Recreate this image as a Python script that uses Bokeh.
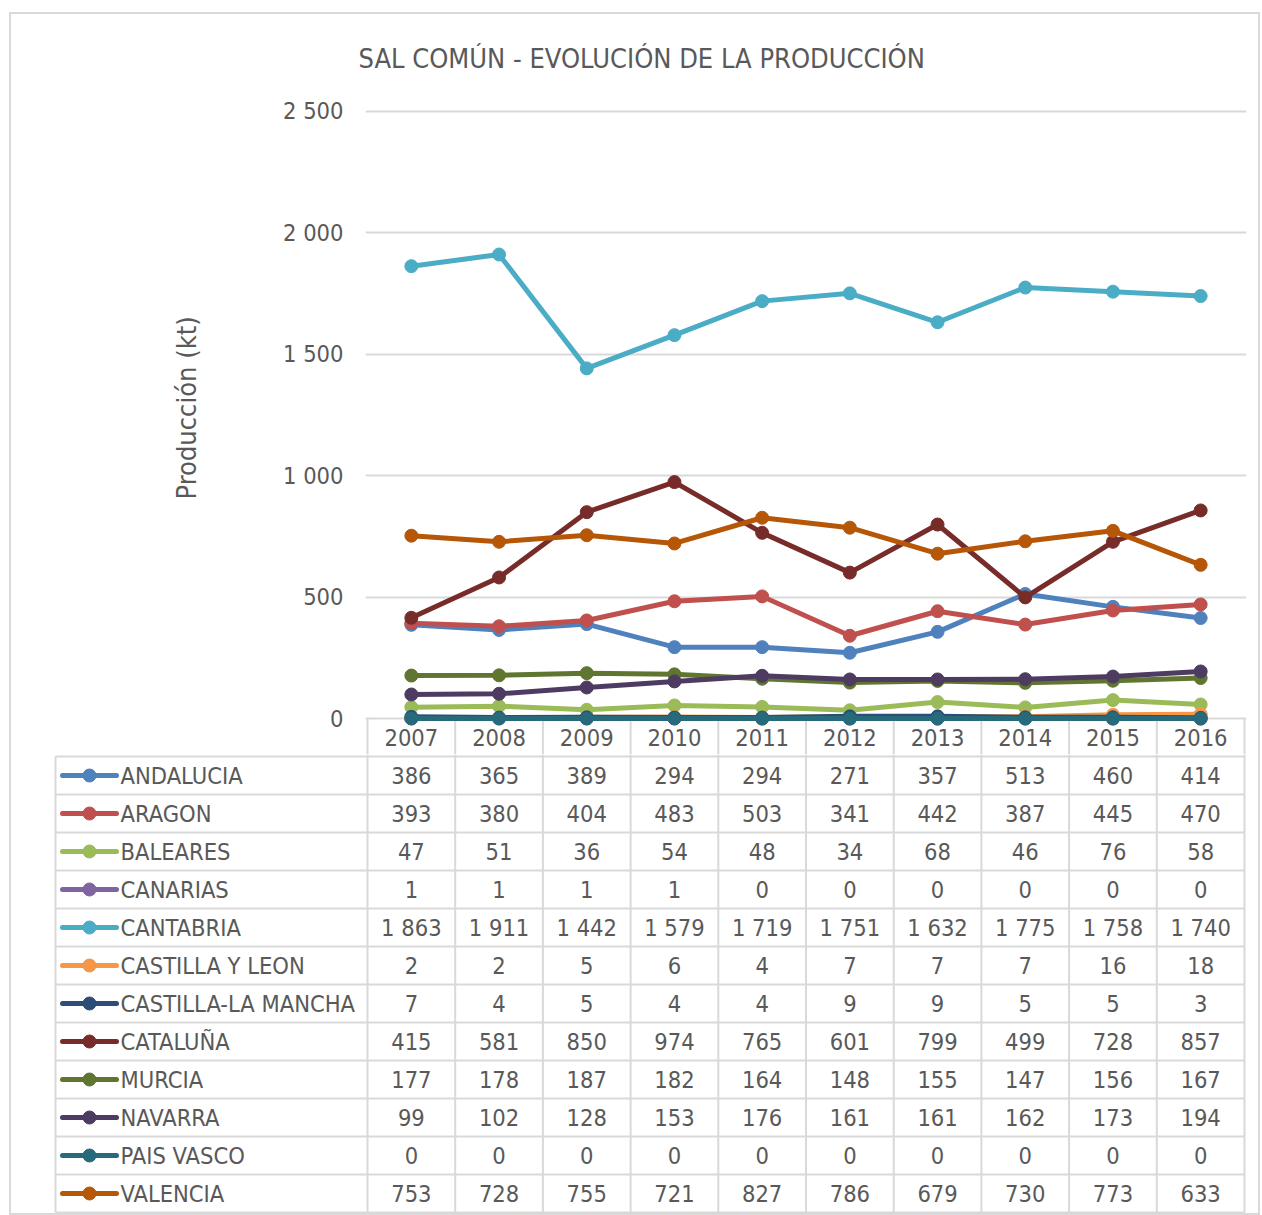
from bokeh.plotting import figure
from bokeh.models import Range1d, FixedTicker, ColumnDataSource, Title
from bokeh.layouts import column
from bokeh.embed import file_html
from bokeh.resources import INLINE
from bokeh.core.properties import value

# ---------------- data ----------------
years = [2007, 2008, 2009, 2010, 2011, 2012, 2013, 2014, 2015, 2016]
regions = ["ANDALUCIA", "ARAGON", "BALEARES", "CANARIAS", "CANTABRIA",
           "CASTILLA Y LEON", "CASTILLA-LA MANCHA", "CATALUÑA", "MURCIA",
           "NAVARRA", "PAIS VASCO", "VALENCIA"]
andalucia = [386, 365, 389, 294, 294, 271, 357, 513, 460, 414]
aragon = [393, 380, 404, 483, 503, 341, 442, 387, 445, 470]
baleares = [47, 51, 36, 54, 48, 34, 68, 46, 76, 58]
canarias = [1, 1, 1, 1, 0, 0, 0, 0, 0, 0]
cantabria = [1863, 1911, 1442, 1579, 1719, 1751, 1632, 1775, 1758, 1740]
castilla_leon = [2, 2, 5, 6, 4, 7, 7, 7, 16, 18]
castilla_mancha = [7, 4, 5, 4, 4, 9, 9, 5, 5, 3]
cataluna = [415, 581, 850, 974, 765, 601, 799, 499, 728, 857]
murcia = [177, 178, 187, 182, 164, 148, 155, 147, 156, 167]
navarra = [99, 102, 128, 153, 176, 161, 161, 162, 173, 194]
pais_vasco = [0, 0, 0, 0, 0, 0, 0, 0, 0, 0]
valencia = [753, 728, 755, 721, 827, 786, 679, 730, 773, 633]
series = [andalucia, aragon, baleares, canarias, cantabria, castilla_leon,
          castilla_mancha, cataluna, murcia, navarra, pais_vasco, valencia]
colors = ["#4F81BD", "#C0504D", "#9BBB59", "#8064A2", "#4BACC6", "#F79646",
          "#2C4D75", "#772C2A", "#5F7530", "#4D3B62", "#276A7C", "#B65708"]
y_ticks = [0, 500, 1000, 1500, 2000, 2500]
y_tick_labels = ["0", "500", "1 000", "1 500", "2 000", "2 500"]
title_text = "SAL COMÚN - EVOLUCIÓN DE LA PRODUCCIÓN"
y_label = "Producción (kt)"


def fmt(v):
    return f"{v:,}".replace(",", " ")


# ---------------- style ----------------
FONT = "DejaVu Sans Condensed"
TXT = "#595959"
GRID = "#d9d9d9"
PX = 87.7          # pixels per year column
PY = 608 / 2500    # pixels per kt
ROW = 38           # table row height

# page origin of the figures is (9, 12)
W = 1251
SPLIT = 754        # page y where the chart figure ends and the table begins

# ---------------- chart (with the table header row) ----------------
y_bottom = -(SPLIT - 718) / PY
A = figure(width=W, height=SPLIT - 12,
           x_range=Range1d(2006.5 - 2 / PX, 2016.5 + 2 / PX),
           y_range=Range1d(y_bottom, 2500 + 10 / PY),
           output_backend="svg", toolbar_location=None,
           x_axis_location=None,
           min_border_left=356, min_border_right=14,
           min_border_top=88, min_border_bottom=0)
A.frame_align = False
A.outline_line_color = None
A.border_fill_color = None
A.background_fill_color = None
A.xgrid.visible = False

A.title.text = title_text
A.title.align = "left"
A.title.offset = -7
A.title.text_font = FONT
A.title.text_font_size = "27px"
A.title.text_font_style = "normal"
A.title.text_color = TXT
A.title.standoff = 56

A.yaxis.ticker = FixedTicker(ticks=y_ticks)
A.yaxis.major_label_overrides = {t: l for t, l in zip(y_ticks, y_tick_labels)}
A.yaxis.axis_line_color = None
A.yaxis.major_tick_line_color = None
A.yaxis.minor_tick_line_color = None
A.yaxis.major_label_standoff = 16
A.yaxis.major_label_text_font = FONT
A.yaxis.major_label_text_font_size = "23.5px"
A.yaxis.major_label_text_color = TXT

ytitle = Title(text=y_label, align="left", offset=SPLIT - 12 - 88 - (499 - 100),
               vertical_align="bottom", standoff=155,
               text_font=FONT, text_font_size="27px",
               text_font_style="normal", text_color=TXT)
A.add_layout(ytitle, "left")

A.ygrid.ticker = FixedTicker(ticks=y_ticks)
A.ygrid.grid_line_color = GRID
A.ygrid.grid_line_width = 2

bounds = [y - 0.5 for y in years] + [years[-1] + 0.5]
# column separators of the table header row
A.segment(x0=bounds, x1=bounds, y0=[0] * len(bounds),
          y1=[y_bottom] * len(bounds), line_color=GRID, line_width=2)
# header years
A.text(x=years, y=[-19 / PY] * len(years), text=[str(y) for y in years],
       text_align="center", text_baseline="middle",
       text_font=value(FONT), text_font_size="23.5px", text_color=TXT)

for vals, col in zip(series, colors):
    src = ColumnDataSource(dict(x=years, y=vals))
    A.line("x", "y", source=src, line_color=col, line_width=5,
           line_join="round")
    A.scatter("x", "y", source=src, size=13, fill_color=col, line_color=col)

# ---------------- data table ----------------
B_LEFT = 53
B_W = 1246 - 53
xb_end = 2016.5 + 2 / PX
xb_start = xb_end - B_W / PX


def xb(px):
    return xb_start + (px - B_LEFT) / PX


row_top = (SPLIT - 775) / ROW
row_bot = (1215 - 775) / ROW
B = figure(width=W, height=1215 - SPLIT,
           x_range=Range1d(xb_start, xb_end),
           y_range=Range1d(row_bot, row_top),
           output_backend="svg", toolbar_location=None,
           x_axis_location=None, y_axis_location=None,
           min_border_left=44, min_border_right=14,
           min_border_top=0, min_border_bottom=0)
B.frame_align = False
B.outline_line_color = None
B.border_fill_color = None
B.background_fill_color = None
B.grid.visible = False

n = len(regions)
rows = list(range(n))
left_x = xb(55)
# horizontal lines
hy = [r + 0.5 for r in range(-1, n)]
B.segment(x0=[left_x] * len(hy), x1=[bounds[-1]] * len(hy), y0=hy, y1=hy,
          line_color=GRID, line_width=2)
# vertical lines
B.segment(x0=bounds, x1=bounds, y0=[row_top] * len(bounds),
          y1=[n - 0.5] * len(bounds), line_color=GRID, line_width=2)
B.segment(x0=[left_x], x1=[left_x], y0=[-0.5], y1=[n - 0.5],
          line_color=GRID, line_width=2)

# legend keys
B.segment(x0=[xb(62)] * n, x1=[xb(116)] * n, y0=rows, y1=rows,
          line_color=colors, line_width=5, line_cap="round")
B.scatter(x=[xb(89)] * n, y=rows, size=13, fill_color=colors,
          line_color=colors)
B.text(x=[xb(120)] * n, y=rows, text=regions, text_align="left",
       text_baseline="middle", text_font=value(FONT),
       text_font_size="23.5px", text_color=TXT)

# cell values
cx, cy, ct = [], [], []
for r, vals in enumerate(series):
    for yr, v in zip(years, vals):
        cx.append(yr)
        cy.append(r)
        ct.append(fmt(v))
B.text(x=cx, y=cy, text=ct, text_align="center", text_baseline="middle",
       text_font=value(FONT), text_font_size="23.5px", text_color=TXT)

layout = column(A, B, margin=(12, 0, 0, 9),
                styles={"outline": "2px solid #d9d9d9",
                        "outline-offset": "-2px"})

open("out.html", "w").write(file_html(layout, INLINE))
